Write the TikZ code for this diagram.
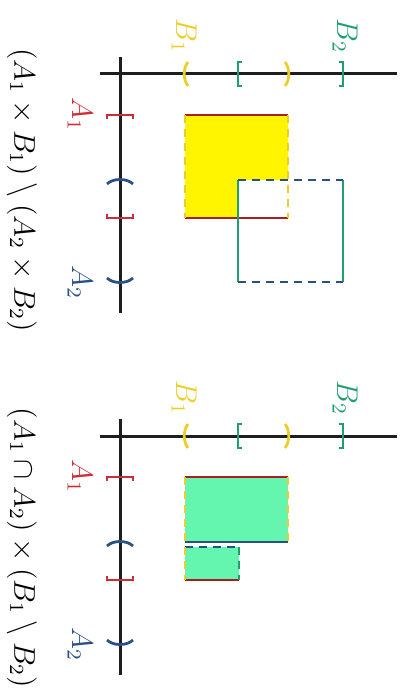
\documentclass[tikz,border=0pt]{standalone}
\usepackage{amsmath,amssymb}
\definecolor{axc}{RGB}{30,30,30}
\definecolor{redc}{RGB}{205,45,55}
\definecolor{redl}{RGB}{170,30,30}
\definecolor{yelc}{RGB}{238,205,40}
\definecolor{grnc}{RGB}{30,160,110}
\definecolor{bluc}{RGB}{40,80,130}
\definecolor{yfill}{RGB}{255,245,0}
\definecolor{mint}{RGB}{100,245,175}
\tikzset{
  axisline/.style={axc,line width=1.2pt},
  markline/.style={line width=1.1pt},
  edge/.style={line width=1pt},
  dashedge/.style={line width=1pt,dash pattern=on 3.2pt off 2.4pt},
  lbl/.style={rotate=-90,font=\large,inner sep=0pt},
}
\begin{document}
\begin{tikzpicture}[x=0.4pt,y=-0.4pt]
\useasboundingbox (0,0) rectangle (400,698);
% ---------- panel 1 ----------
\begin{scope}
\fill[yfill] (185,115) -- (288,115) -- (288,180) -- (238,180) -- (238,218) -- (185,218) -- cycle;
\draw[axisline] (100,74) -- (397,74);
\draw[axisline] (120,57) -- (120,313);
% B marks
\draw[markline,yelc] (188,62) .. controls (183,68) and (183,80) .. (188,86);
\draw[markline,grnc] (242,62) -- (238,62) -- (238,86) -- (242,86);
\draw[markline,yelc] (285,62) .. controls (290,68) and (290,80) .. (285,86);
\draw[markline,grnc] (339,62) -- (343,62) -- (343,86) -- (339,86);
% A marks
\draw[markline,redc] (107,119) -- (107,115) -- (133,115) -- (133,119);
\draw[markline,bluc] (107,184) .. controls (113,178) and (127,178) .. (133,184);
\draw[markline,redc] (107,214) -- (107,218) -- (133,218) -- (133,214);
\draw[markline,bluc] (107,278) .. controls (113,284) and (127,284) .. (133,278);
% labels
\node[lbl,yelc] (b1a) at (184,36) {$B_1$};
\node[lbl,grnc] (b2a) at (345,36) {$B_2$};
\node[lbl,redc] (a1a) at (80,114) {$A_1$};
\node[lbl,bluc] (a2a) at (80,282) {$A_2$};
% rectangles
\draw[edge,redl] (185,115) -- (288,115);
\draw[edge,redl] (185,218) -- (288,218);
\draw[dashedge,yelc] (185,115) -- (185,218);
\draw[dashedge,yelc] (288,115) -- (288,218);
\draw[edge,grnc] (238,180) -- (238,282);
\draw[edge,grnc] (343,180) -- (343,282);
\draw[dashedge,bluc] (238,180) -- (343,180);
\draw[dashedge,bluc] (238,282) -- (343,282);
\node[lbl] (cap1) at (22,190) {$(A_1 \times B_1) \setminus (A_2 \times B_2)$};
\end{scope}
% ---------- panel 2 ----------
\begin{scope}[shift={(0,362)}]
\fill[mint] (185,115) rectangle (288,180);
\fill[mint] (185,185) rectangle (239,218);
\draw[axisline] (100,74) -- (397,74);
\draw[axisline] (120,57) -- (120,313);
% B marks
\draw[markline,yelc] (188,62) .. controls (183,68) and (183,80) .. (188,86);
\draw[markline,grnc] (242,62) -- (238,62) -- (238,86) -- (242,86);
\draw[markline,yelc] (285,62) .. controls (290,68) and (290,80) .. (285,86);
\draw[markline,grnc] (339,62) -- (343,62) -- (343,86) -- (339,86);
% A marks
\draw[markline,redc] (107,119) -- (107,115) -- (133,115) -- (133,119);
\draw[markline,bluc] (107,184) .. controls (113,178) and (127,178) .. (133,184);
\draw[markline,redc] (107,214) -- (107,218) -- (133,218) -- (133,214);
\draw[markline,bluc] (107,278) .. controls (113,284) and (127,284) .. (133,278);
% labels
\node[lbl,yelc] (b1b) at (184,36) {$B_1$};
\node[lbl,grnc] (b2b) at (345,36) {$B_2$};
\node[lbl,redc] (a1b) at (80,114) {$A_1$};
\node[lbl,bluc] (a2b) at (80,282) {$A_2$};
% rectangles
\draw[edge,redl] (185,115) -- (288,115);
\draw[edge,bluc] (185,180) -- (288,180);
\draw[dashedge,yelc] (185,115) -- (185,180);
\draw[dashedge,yelc] (288,115) -- (288,180);
\draw[dashedge,bluc] (185,185) -- (239,185);
\draw[edge,redl] (185,218) -- (239,218);
\draw[dashedge,yelc] (185,185) -- (185,218);
\draw[dashedge,grnc] (239,185) -- (239,218);
\node[lbl] (cap2) at (22,186) {$(A_1 \cap A_2) \times (B_1 \setminus B_2)$};
\end{scope}
\end{tikzpicture}
\end{document}
